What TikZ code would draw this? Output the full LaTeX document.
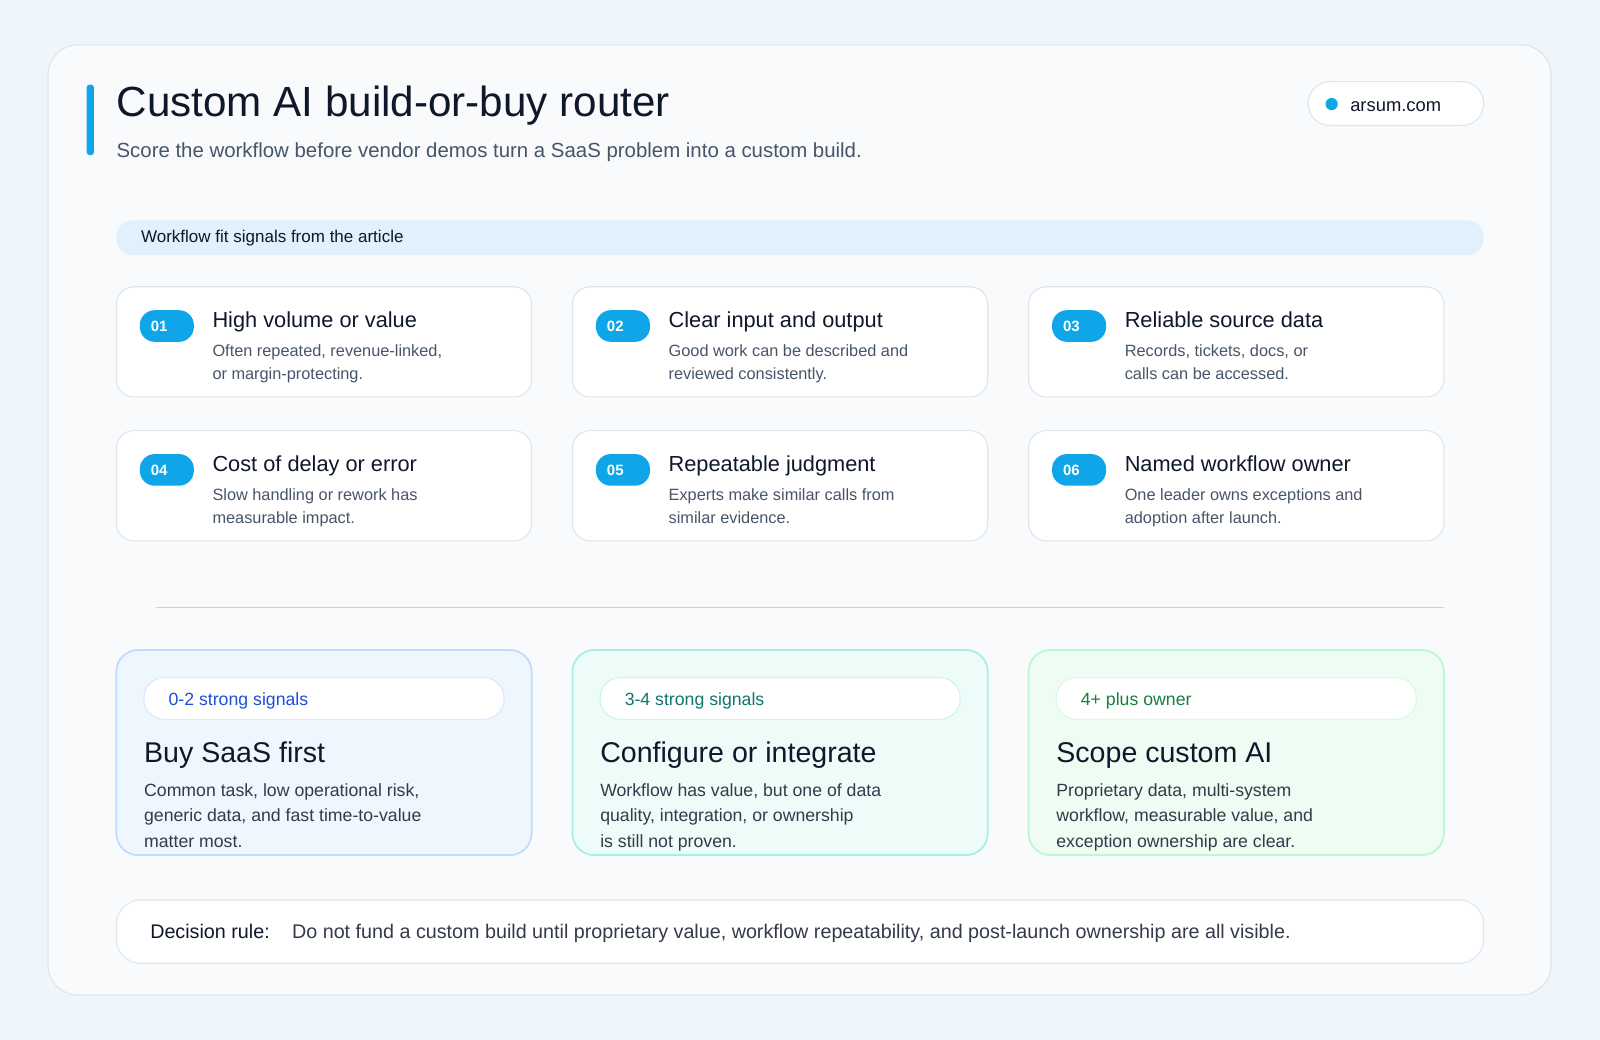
\documentclass[tikz,border=0pt]{standalone}
\usepackage{fontspec}
\setmainfont{Liberation Sans}
\definecolor{bg}{HTML}{EEF5FB}
\definecolor{card}{HTML}{F8FAFC}
\definecolor{bord}{HTML}{DCE6EF}
\definecolor{accent}{HTML}{0EA5E9}
\definecolor{ink}{HTML}{0F172A}
\definecolor{sub}{HTML}{475569}
\definecolor{band}{HTML}{E0F0FC}
\definecolor{bfill}{HTML}{EEF6FE}\definecolor{bbord}{HTML}{BFDBFE}\definecolor{btext}{HTML}{1D4ED8}
\definecolor{tfill}{HTML}{EEFCF9}\definecolor{tbord}{HTML}{A5EFE3}\definecolor{ttext}{HTML}{0F766E}
\definecolor{gfill}{HTML}{EFFCF3}\definecolor{gbord}{HTML}{BBF7D0}\definecolor{gtext}{HTML}{15803D}
\begin{document}
\begin{tikzpicture}[x=0.75pt,y=-0.75pt,
  txt/.style={anchor=base west,inner sep=0pt,align=left},
  sig/.style={draw=bord,fill=white,rounded corners=13pt,line width=0.8pt},
  badge/.style={fill=accent,rounded corners=11pt},
  st/.style={txt,font=\fontsize{16}{18}\selectfont,text=ink},
  sd/.style={txt,font=\fontsize{12}{16.5}\selectfont,text=sub},
  rt/.style={txt,font=\fontsize{21}{24}\selectfont,text=ink},
  rd/.style={txt,font=\fontsize{13}{18.5}\selectfont,text=ink!85}]
\fill[bg] (0,0) rectangle (1568,1019);
\useasboundingbox (0,0) rectangle (1568,1019);
\draw[bord,fill=card,rounded corners=22pt,line width=0.8pt] (47,44) rectangle (1520,975);
\fill[accent,rounded corners=2pt] (85,83) rectangle (92,152);
\node[txt,font=\fontsize{31}{34}\selectfont,text=ink] (title) at (114,114) {Custom AI build-or-buy router};
\node[txt,font=\fontsize{15}{18}\selectfont,text=sub] (subt) at (114,154) {Score the workflow before vendor demos turn a SaaS problem into a custom build.};
\draw[bord,fill=white,rounded corners=16pt,line width=0.8pt] (1282,80) rectangle (1454,123);
\fill[accent] (1305,102) circle (6);
\node[txt,font=\fontsize{13.5}{16}\selectfont,text=ink] (site) at (1323,109) {arsum.com};
\fill[band,rounded corners=12pt] (114,216) rectangle (1454,250);
\node[txt,font=\fontsize{12.5}{15}\selectfont,text=ink] (band) at (138,238) {Workflow fit signals from the article};
\foreach \x/\y/\n/\t/\d in {
 114/281/01/High volume or value/{Often repeated, revenue-linked,\\or margin-protecting.},
 561/281/02/Clear input and output/{Good work can be described and\\reviewed consistently.},
 1008/281/03/Reliable source data/{Records, tickets, docs, or\\calls can be accessed.},
 114/422/04/Cost of delay or error/{Slow handling or rework has\\measurable impact.},
 561/422/05/Repeatable judgment/{Experts make similar calls from\\similar evidence.},
 1008/422/06/Named workflow owner/{One leader owns exceptions and\\adoption after launch.}}{
 \draw[sig] (\x,\y) rectangle ++(407,108);
 \fill[badge] (\x+23,\y+23) rectangle ++(53,31);
 \node[font=\fontsize{11}{13}\selectfont\bfseries,text=white] (b\n) at (\x+42,\y+39) {\n};
 \node[st] (t\n) at (\x+94,\y+40) {\t};
 \node[sd,anchor=north west] (d\n) at (\x+94,\y+57) {\d};
}
\draw[bord!80!gray,line width=0.8pt] (153,595) -- (1415,595);
\foreach \x/\f/\b/\c/\p/\t/\d in {
 114/bfill/bbord/btext/0-2 strong signals/Buy SaaS first/{Common task, low operational risk,\\generic data, and fast time-to-value\\matter most.},
 561/tfill/tbord/ttext/3-4 strong signals/Configure or integrate/{Workflow has value, but one of data\\quality, integration, or ownership\\is still not proven.},
 1008/gfill/gbord/gtext/4+ plus owner/Scope custom AI/{Proprietary data, multi-system\\workflow, measurable value, and\\exception ownership are clear.}}{
 \draw[draw=\b,fill=\f,rounded corners=16pt,line width=1.3pt] (\x,637) rectangle ++(407,201);
 \draw[draw=\b!60,fill=white,rounded corners=15pt,line width=0.8pt] (\x+27,664) rectangle ++(353,41);
 \node[txt,font=\fontsize{13}{15}\selectfont,text=\c] at (\x+51,691) {\p};
 \node[rt] at (\x+27,747) {\t};
 \node[rd,anchor=north west] at (\x+27,768) {\d};
}
\draw[bord,fill=white,rounded corners=18pt,line width=0.8pt] (114,882) rectangle (1454,944);
\node[txt,font=\fontsize{14.5}{17}\selectfont,text=ink] (rule) at (147,920) {Decision rule:};
\node[txt,font=\fontsize{14.5}{17}\selectfont,text=ink!85] (ruletext) at (286,920) {Do not fund a custom build until proprietary value, workflow repeatability, and post-launch ownership are all visible.};
\end{tikzpicture}
\end{document}
